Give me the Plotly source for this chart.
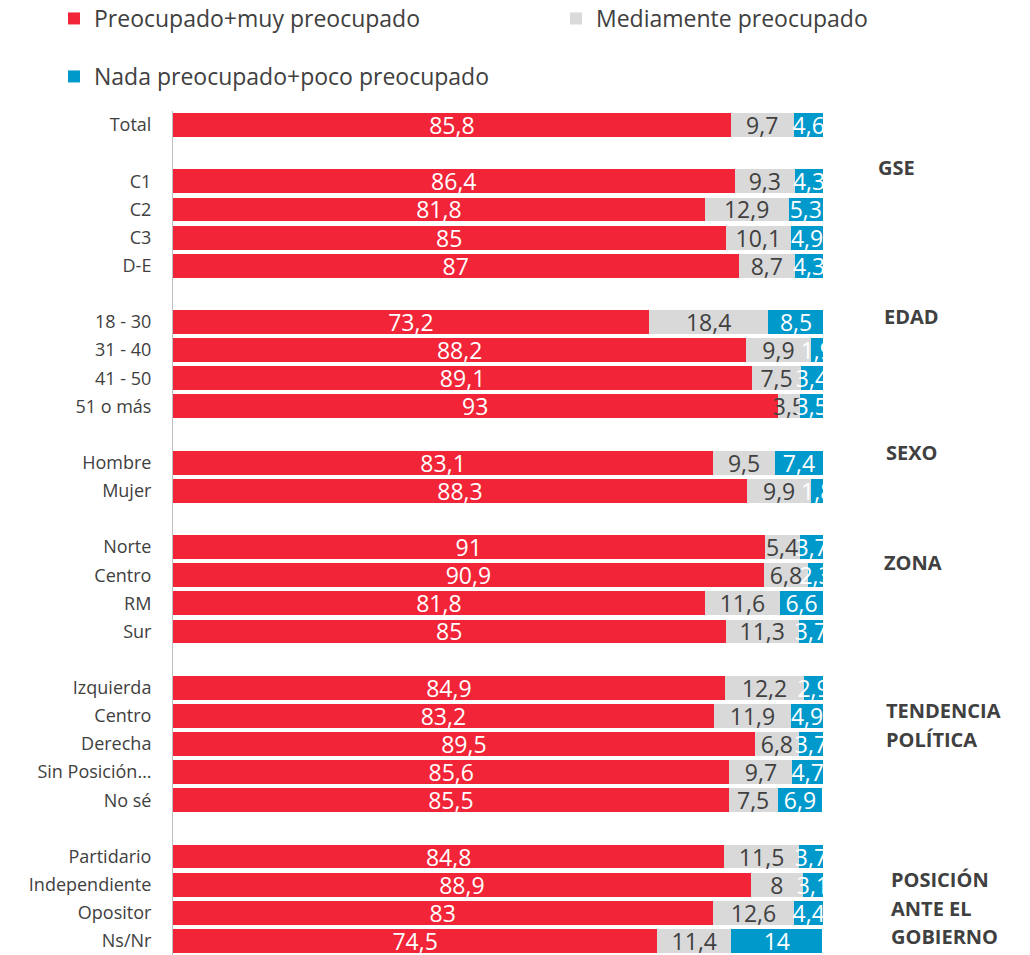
import plotly.graph_objects as go

categories = ["Total", "", "C1", "C2", "C3", "D-E", "", "18 - 30", "31 - 40", "41 - 50",
              "51 o más", "", "Hombre", "Mujer", "", "Norte", "Centro", "RM", "Sur", "",
              "Izquierda", "Centro", "Derecha", "Sin Posición…", "No sé", "",
              "Partidario", "Independiente", "Opositor", "Ns/Nr"]

preocupado = [85.8, None, 86.4, 81.8, 85, 87, None, 73.2, 88.2, 89.1, 93, None, 83.1, 88.3,
              None, 91, 90.9, 81.8, 85, None, 84.9, 83.2, 89.5, 85.6, 85.5, None,
              84.8, 88.9, 83, 74.5]
mediamente = [9.7, None, 9.3, 12.9, 10.1, 8.7, None, 18.4, 9.9, 7.5, 3.5, None, 9.5, 9.9,
              None, 5.4, 6.8, 11.6, 11.3, None, 12.2, 11.9, 6.8, 9.7, 7.5, None,
              11.5, 8, 12.6, 11.4]
nada = [4.6, None, 4.3, 5.3, 4.9, 4.3, None, 8.5, 1.9, 3.4, 3.5, None, 7.4, 1.8,
        None, 3.7, 2.3, 6.6, 3.7, None, 2.9, 4.9, 3.7, 4.7, 6.9, None,
        3.7, 3.1, 4.4, 14]

series_names = ["Preocupado+muy preocupado", "Mediamente preocupado",
                "Nada preocupado+poco preocupado"]

group_labels = ["GSE", "EDAD", "SEXO", "ZONA", "TENDENCIA", "POLÍTICA",
                "POSICIÓN", "ANTE EL", "GOBIERNO"]
group_rows = [1.5, 6.8, 11.65, 15.55, 20.8, 21.85, 26.8, 27.85, 28.85]
group_px = [876, 882, 884, 882, 884, 884, 889, 889, 889]

FONT = "Open Sans"
DARK = "#404040"
colors = ["#F22538", "#D9D9D9", "#0099CC"]
text_colors = ["white", DARK, "white"]


def fmt(v):
    return "" if v is None else f"{v:g}".replace(".", ",")


OFF = 8  # page body margin
W, H = 1030 - OFF, 955 - OFF
ml, mr, mt, mb = 173 - OFF, 207, 111 - OFF, 0
pw = W - ml - mr
ph = H - mt - mb

legend_names = ["legend", "legend2", "legend3"]
legend_px = [(46, 17), (548, 17), (46, 75)]  # (left, text-centre) in page pixels

ypos = list(range(len(categories)))
fig = go.Figure()
for i, (name, vals) in enumerate(zip(series_names, [preocupado, mediamente, nada])):
    fig.add_trace(go.Bar(
        name=name, orientation="h", y=ypos, x=vals,
        text=[fmt(v) for v in vals], textposition="inside", insidetextanchor="middle",
        textangle=0, textfont=dict(family=FONT, size=23, color=text_colors[i]),
        marker=dict(color=colors[i], line=dict(width=0)),
        cliponaxis=True, legend=legend_names[i],
    ))

annotations = []
for label, yv, px in zip(group_labels, group_rows, group_px):
    annotations.append(dict(
        text=f"<b>{label}</b>", x=(px - OFF - ml) / pw, xref="paper", y=yv, yref="y",
        xanchor="left", yanchor="middle", showarrow=False,
        font=dict(family=FONT, size=20, color=DARK)))

legends = {}
for ln, (lx, lc) in zip(legend_names, legend_px):
    top = lc - 20 - OFF  # figure px of legend box top
    legends[ln] = dict(orientation="h", x=(lx - ml) / pw, y=1 + (mt - top) / ph,
                       xanchor="left", yanchor="top", bgcolor="rgba(0,0,0,0)",
                       font=dict(family=FONT, size=23, color=DARK))

fig.update_layout(
    width=W, height=H, barmode="stack", bargap=0.15,
    margin=dict(l=ml, r=mr, t=mt, b=mb, autoexpand=False),
    paper_bgcolor="white", plot_bgcolor="white",
    font=dict(family=FONT, color=DARK),
    uniformtext=dict(minsize=23, mode="show"),
    xaxis=dict(range=[0, 100], visible=False, fixedrange=True),
    yaxis=dict(range=[len(categories) - 0.5, -0.5], tickvals=ypos, ticktext=categories,
               showline=True, linecolor="#BFBFBF", linewidth=1, ticks="",
               showgrid=False, zeroline=False, ticklabelstandoff=17,
               tickfont=dict(family=FONT, size=18, color=DARK)),
    annotations=annotations,
    showlegend=True,
    **legends,
)

fig.write_html("out.html")
